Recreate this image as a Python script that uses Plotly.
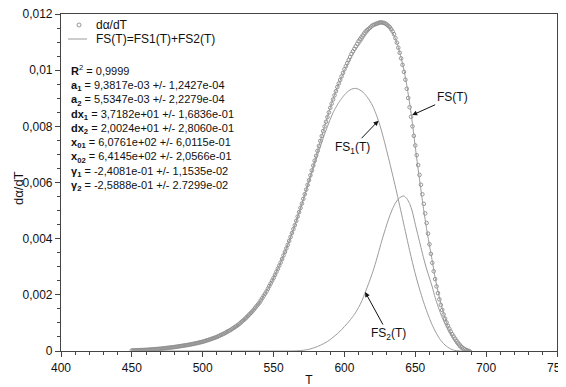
import plotly.graph_objects as go

# ---------------- data ----------------
T_DATA = [
    450, 451, 452, 453, 454, 455, 456, 457, 458, 459,
    460, 461, 462, 463, 464, 465, 466, 467, 468, 469,
    470, 471, 472, 473, 474, 475, 476, 477, 478, 479,
    480, 481, 482, 483, 484, 485, 486, 487, 488, 489,
    490, 491, 492, 493, 494, 495, 496, 497, 498, 499,
    500, 501, 502, 503, 504, 505, 506, 507, 508, 509,
    510, 511, 512, 513, 514, 515, 516, 517, 518, 519,
    520, 521, 522, 523, 524, 525, 526, 527, 528, 529,
    530, 531, 532, 533, 534, 535, 536, 537, 538, 539,
    540, 541, 542, 543, 544, 545, 546, 547, 548, 549,
    550, 551, 552, 553, 554, 555, 556, 557, 558, 559,
    560, 561, 562, 563, 564, 565, 566, 567, 568, 569,
    570, 571, 572, 573, 574, 575, 576, 577, 578, 579,
    580, 581, 582, 583, 584, 585, 586, 587, 588, 589,
    590, 591, 592, 593, 594, 595, 596, 597, 598, 599,
    600, 601, 602, 603, 604, 605, 606, 607, 608, 609,
    610, 611, 612, 613, 614, 615, 616, 617, 618, 619,
    620, 621, 622, 623, 624, 625, 626, 627, 628, 629,
    630, 631, 632, 633, 634, 635, 636, 637, 638, 639,
    640, 641, 642, 643, 644, 645, 646, 647, 648, 649,
    650, 651, 652, 653, 654, 655, 656, 657, 658, 659,
    660, 661, 662, 663, 664, 665, 666, 667, 668, 669,
    670, 671, 672, 673, 674, 675, 676, 677, 678, 679,
    680, 681, 682, 683, 684, 685, 686, 687, 688,
]
DADT = [
    2.0e-5, 2.2e-5, 2.4e-5, 2.6e-5, 2.8e-5, 3.0e-5, 3.2e-5, 3.4e-5, 3.6e-5, 3.8e-5,
    4.0e-5, 4.4e-5, 4.8e-5, 5.2e-5, 5.6e-5, 6.0e-5, 6.4e-5, 6.8e-5, 7.2e-5, 7.6e-5,
    8.0e-5, 8.6e-5, 9.2e-5, 9.8e-5, 10.4e-5, 11.0e-5, 11.6e-5, 12.2e-5, 12.8e-5, 13.4e-5,
    14.0e-5, 14.8e-5, 15.6e-5, 16.4e-5, 17.2e-5, 18.0e-5, 18.8e-5, 19.6e-5, 20.4e-5, 21.2e-5,
    22e-5, 23e-5, 24e-5, 25e-5, 26e-5, 27e-5, 28.2e-5, 29.4e-5, 30.6e-5, 31.8e-5,
    33e-5, 34.6e-5, 36.2e-5, 37.8e-5, 39.4e-5, 41e-5, 42.8e-5, 44.6e-5, 46.4e-5, 48.2e-5,
    50e-5, 52.4e-5, 54.8e-5, 57.2e-5, 59.6e-5, 62e-5, 64.8e-5, 67.6e-5, 70.4e-5, 73.2e-5,
    76e-5, 79.4e-5, 82.8e-5, 86.2e-5, 89.6e-5, 93e-5, 97.4e-5, 101.8e-5, 106.2e-5, 110.6e-5,
    115e-5, 120.2e-5, 125.4e-5, 130.6e-5, 135.8e-5, 141e-5, 147.2e-5, 153.4e-5, 159.6e-5, 165.8e-5,
    172e-5, 180e-5, 188e-5, 196e-5, 204e-5, 212e-5, 221.6e-5, 231.2e-5, 240.8e-5, 250.4e-5,
    260e-5, 271e-5, 282e-5, 293e-5, 304e-5, 315e-5, 327.6e-5, 340.2e-5, 352.8e-5, 365.4e-5,
    378e-5, 392e-5, 406e-5, 420e-5, 434e-5, 448e-5, 463.4e-5, 478.8e-5, 494.2e-5, 509.6e-5,
    525e-5, 541.6e-5, 558.2e-5, 574.8e-5, 591.4e-5, 608e-5, 625.4e-5, 642.8e-5, 660.2e-5, 677.6e-5,
    695e-5, 712.6e-5, 730.2e-5, 747.8e-5, 765.4e-5, 783e-5, 799.6e-5, 816.2e-5, 832.8e-5, 849.4e-5,
    866e-5, 880.8e-5, 895.6e-5, 910.4e-5, 925.2e-5, 940e-5, 952.6e-5, 965.2e-5, 977.8e-5, 990.4e-5,
    1003e-5, 1014e-5, 1025e-5, 1036e-5, 1047e-5, 1058e-5, 1067e-5, 1076e-5, 1085e-5, 1094e-5,
    1103e-5, 1110e-5, 1117e-5, 1124e-5, 1131e-5, 1138e-5, 1142.4e-5, 1146.8e-5, 1151.2e-5, 1155.6e-5,
    1160e-5, 1162e-5, 1164e-5, 1166e-5, 1168e-5, 1170e-5, 1170e-5, 1169e-5, 1168e-5, 1166e-5,
    1162e-5, 1158e-5, 1153e-5, 1146e-5, 1138e-5, 1128e-5, 1114e-5, 1098e-5, 1080e-5, 1062e-5,
    1042e-5, 1019e-5, 994e-5, 966e-5, 934e-5, 901e-5, 868e-5, 834e-5, 800e-5, 766e-5,
    732e-5, 697e-5, 662e-5, 627e-5, 592e-5, 558e-5, 524e-5, 490e-5, 456e-5, 418e-5,
    380e-5, 346e-5, 314e-5, 284e-5, 256e-5, 230e-5, 206e-5, 184e-5, 164e-5, 146e-5,
    130e-5, 115e-5, 102e-5, 90e-5, 79e-5, 69e-5, 60e-5, 52e-5, 44e-5, 37e-5,
    30e-5, 24e-5, 18e-5, 13e-5, 9e-5, 6e-5, 3e-5, 1e-5, 0.0,
]

T_FIT = [
    450, 455, 460, 465, 470, 475, 480, 485, 490, 495,
    500, 505, 510, 515, 520, 525, 530, 535, 540, 545,
    550, 555, 560, 565, 570, 575, 580,
    582, 584, 586, 588, 590, 592, 594, 596, 598, 600,
    602, 604, 606, 608, 610, 612, 614, 616, 618, 620,
    622, 624, 626, 628, 630, 632, 634, 636, 638, 640,
    642, 644, 646, 648, 650, 652, 654, 656, 658, 660,
    662, 664, 666, 668, 670, 672, 674, 676, 678, 680,
    682, 684, 686, 688, 690,
]
FS1 = [
    2e-5, 3e-5, 4e-5, 6e-5, 8e-5, 11e-5, 14e-5, 18e-5, 22e-5, 27e-5,
    33e-5, 41e-5, 50e-5, 62e-5, 76e-5, 93e-5, 115e-5, 141e-5, 172e-5, 212e-5,
    260e-5, 315e-5, 378e-5, 447e-5, 523e-5, 602e-5, 681e-5,
    712e-5, 742e-5, 772e-5, 799e-5, 825e-5, 849e-5, 868e-5, 885e-5, 899e-5, 912e-5,
    922e-5, 930e-5, 934e-5, 935e-5, 932e-5, 926e-5, 917e-5, 905e-5, 890e-5, 872e-5,
    848e-5, 820e-5, 787e-5, 750e-5, 710e-5, 669e-5, 627e-5, 584e-5, 540e-5, 495e-5,
    449e-5, 403e-5, 358e-5, 315e-5, 275e-5, 238e-5, 204e-5, 172e-5, 143e-5, 116e-5,
    92e-5, 71e-5, 53e-5, 38e-5, 26e-5, 17e-5, 10e-5, 5e-5, 2e-5, 1e-5,
    0.0, 0.0, 0.0, 0.0, 0.0,
]
FS2 = [
    0.0, 0.0, 0.0, 0.0, 0.0, 0.0, 0.0, 0.0, 0.0, 0.0,
    0.0, 0.0, 0.0, 0.0, 0.0, 0.0, 0.0, 0.0, 0.0, 0.0,
    0.0, 0.0, 0.0, 0.5e-5, 2e-5, 6e-5, 14e-5,
    18e-5, 23e-5, 28e-5, 34e-5, 41e-5, 49e-5, 57e-5, 66e-5, 76e-5, 87e-5,
    98e-5, 110e-5, 123e-5, 138e-5, 155e-5, 175e-5, 200e-5, 226e-5, 253e-5, 282e-5,
    314e-5, 350e-5, 386e-5, 420e-5, 452e-5, 482e-5, 507e-5, 527e-5, 541e-5, 549e-5,
    552e-5, 543e-5, 525e-5, 495e-5, 451e-5, 410e-5, 369e-5, 328e-5, 292e-5, 260e-5,
    228e-5, 190e-5, 160e-5, 132e-5, 107e-5, 86e-5, 66e-5, 48e-5, 32e-5, 18e-5,
    7e-5, 2e-5, 0.0, 0.0, 0.0,
]
FS_SUM = [
    2e-5, 3e-5, 4e-5, 6e-5, 8e-5, 11e-5, 14e-5, 18e-5, 22e-5, 27e-5,
    33e-5, 41e-5, 50e-5, 62e-5, 76e-5, 93e-5, 115e-5, 141e-5, 172e-5, 212e-5,
    260e-5, 315e-5, 378e-5, 448e-5, 525e-5, 608e-5, 695e-5,
    730e-5, 765e-5, 800e-5, 833e-5, 866e-5, 898e-5, 925e-5, 951e-5, 975e-5, 999e-5,
    1020e-5, 1040e-5, 1057e-5, 1073e-5, 1087e-5, 1101e-5, 1117e-5, 1131e-5, 1143e-5, 1154e-5,
    1162e-5, 1170e-5, 1173e-5, 1170e-5, 1162e-5, 1151e-5, 1134e-5, 1111e-5, 1081e-5, 1044e-5,
    1001e-5, 946e-5, 883e-5, 810e-5, 726e-5, 648e-5, 573e-5, 500e-5, 435e-5, 376e-5,
    320e-5, 261e-5, 213e-5, 170e-5, 133e-5, 103e-5, 76e-5, 53e-5, 34e-5, 19e-5,
    7e-5, 2e-5, 0.0, 0.0, 0.0,
]

Y_TICKS = [0, 0.002, 0.004, 0.006, 0.008, 0.01, 0.012]
Y_TICK_TEXT = ["0", "0,002", "0,004", "0,006", "0,008", "0,01", "0,012"]
X_TICKS = [400, 450, 500, 550, 600, 650, 700, 750]

LEGEND_NAMES = ["dα/dT", "FS(T)=FS1(T)+FS2(T)"]

PARAM_LINES = [
    "<b>R</b><sup>2</sup> = 0,9999",
    "<b>a<sub>1</sub></b> = 9,3817e-03 +/- 1,2427e-04",
    "<b>a<sub>2</sub></b> = 5,5347e-03 +/- 2,2279e-04",
    "<b>dx<sub>1</sub></b> = 3,7182e+01 +/- 1,6836e-01",
    "<b>dx<sub>2</sub></b> = 2,0024e+01 +/- 2,8060e-01",
    "<b>x<sub>01</sub></b> = 6,0761e+02 +/- 6,0115e-01",
    "<b>x<sub>02</sub></b> = 6,4145e+02 +/- 2,0566e-01",
    "<b>γ<sub>1</sub></b> = -2,4081e-01 +/- 1,1535e-02",
    "<b>γ<sub>2</sub></b> = -2,5888e-01 +/- 2.7299e-02",
]

FONT = "Arial, Liberation Sans, sans-serif"
LINE_COL = "#9a9a9a"
MARK_COL = "#8a8a8a"
TXT = "#111"

fig = go.Figure()
fig.add_trace(go.Scatter(
    x=T_DATA, y=DADT, mode="markers", name=LEGEND_NAMES[0],
    marker=dict(symbol="circle-open", size=3.6, color=MARK_COL, line=dict(width=0.9, color=MARK_COL)),
))
fig.add_trace(go.Scatter(
    x=T_FIT, y=FS_SUM, mode="lines", name=LEGEND_NAMES[1],
    line=dict(color=LINE_COL, width=1, shape="spline", smoothing=0.6),
))
fig.add_trace(go.Scatter(
    x=T_FIT, y=FS1, mode="lines", name="FS1",
    line=dict(color=LINE_COL, width=1, shape="spline", smoothing=0.6),
))
fig.add_trace(go.Scatter(
    x=T_FIT, y=FS2, mode="lines", name="FS2",
    line=dict(color=LINE_COL, width=1, shape="spline", smoothing=0.6),
))

axis_common = dict(
    showline=True, linecolor="#444", linewidth=1.2, mirror=True,
    showgrid=False, zeroline=False, automargin=False,
    ticks="outside", ticklen=5, tickwidth=1, tickcolor="#444",
    tickfont=dict(family=FONT, size=12, color=TXT),
    ticklabeloverflow="allow",
)

fig.update_xaxes(
    range=[400, 750], tickmode="array", tickvals=X_TICKS,
    minor=dict(tick0=400, dtick=10, ticks="outside", ticklen=3, tickcolor="#444"),
    title=dict(text="T", font=dict(family=FONT, size=12, color=TXT), standoff=2),
    **axis_common,
)
fig.update_yaxes(
    range=[0, 0.012], tickmode="array", tickvals=Y_TICKS, ticktext=Y_TICK_TEXT,
    minor=dict(tick0=0, dtick=0.0005, ticks="outside", ticklen=3, tickcolor="#444"),
    **axis_common,
)

arrow = dict(showarrow=True, arrowhead=2, arrowsize=1, arrowwidth=1, arrowcolor=TXT,
             font=dict(family=FONT, size=12, color=TXT))
annotations = [
    # y-axis title, placed left of the tick labels as in the reference
    dict(xref="paper", yref="paper", x=-0.0847, y=0.4837, xanchor="center", yanchor="middle",
         text="dα/dT", textangle=-90,
         showarrow=False, font=dict(family=FONT, size=13, color=TXT)),
    # hand-made legend texts
    dict(xref="paper", yref="paper", x=0.0665, y=0.9674, xanchor="left", yanchor="middle",
         text=LEGEND_NAMES[0], showarrow=False, font=dict(family=FONT, size=12, color=TXT)),
    dict(xref="paper", yref="paper", x=0.0665, y=0.9258, xanchor="left", yanchor="middle",
         text=LEGEND_NAMES[1], showarrow=False, font=dict(family=FONT, size=12, color=TXT)),
    # fit parameters
    dict(xref="paper", yref="paper", x=0.016, y=0.862, xanchor="left", yanchor="top",
         text="<br>".join(PARAM_LINES), showarrow=False, align="left",
         font=dict(family=FONT, size=11, color=TXT)),
    dict(x=647.8, y=0.0084, text="FS(T)", ax=40, ay=-18, **arrow),
    dict(x=624.0, y=0.0082, text="FS<sub>1</sub>(T)", ax=-26, ay=27, **arrow),
    dict(x=614.6, y=0.0021, text="FS<sub>2</sub>(T)", ax=23, ay=42, **arrow),
]

shapes = [
    # legend symbols: an open circle and a short line
    dict(type="circle", xref="paper", yref="paper", xsizemode="pixel", ysizemode="pixel",
         xanchor=0.0363, yanchor=0.9674, x0=-2, x1=2, y0=-2, y1=2,
         line=dict(color=MARK_COL, width=0.9), fillcolor="rgba(0,0,0,0)"),
    dict(type="line", xref="paper", yref="paper", x0=0.0141, x1=0.0524, y0=0.9258, y1=0.9258,
         line=dict(color=LINE_COL, width=1)),
]

# The page body has an 8 px margin, so the figure is drawn 8 px smaller and
# 8 px further in; its plot area lands where the reference has it.
fig.update_layout(
    width=558, height=379,
    margin=dict(l=53, r=9, t=6, b=36),
    paper_bgcolor="white", plot_bgcolor="white",
    font=dict(family=FONT, size=12, color=TXT),
    showlegend=False,
    annotations=annotations,
    shapes=shapes,
)

fig.write_html("out.html")
